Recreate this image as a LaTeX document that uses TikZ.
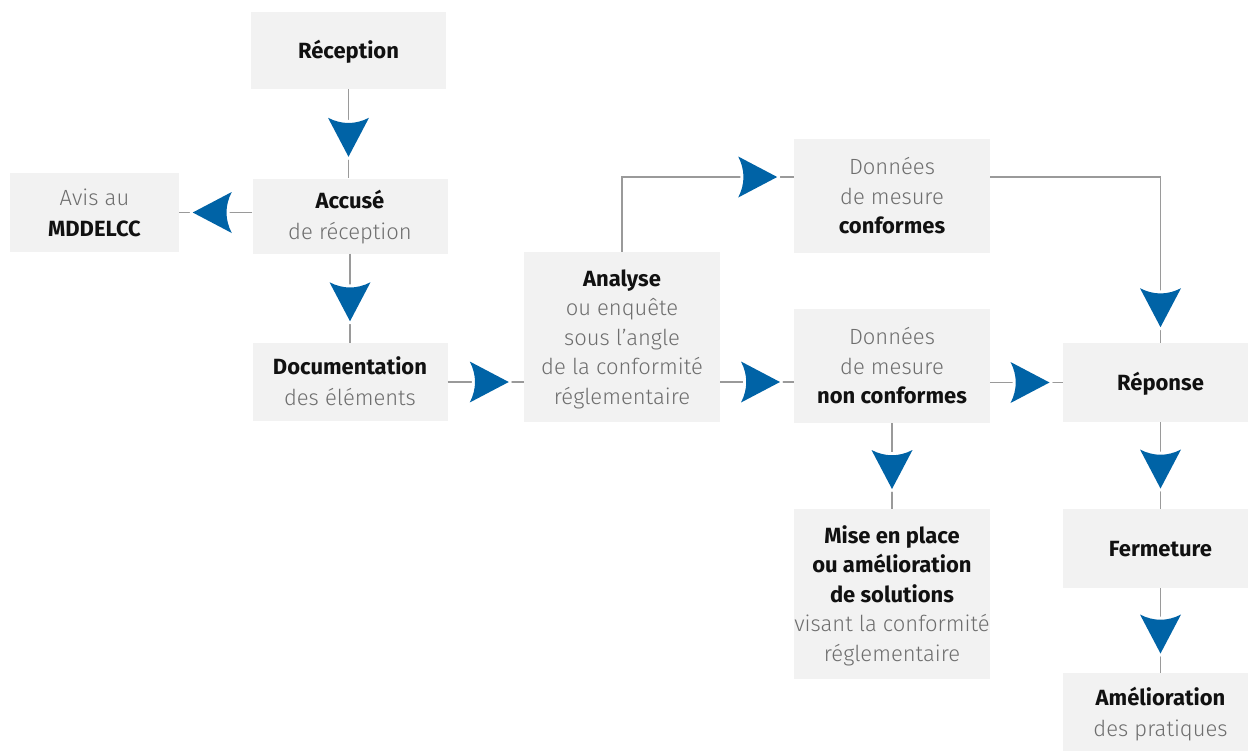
\documentclass[tikz,border=0pt]{standalone}
\usepackage{fontspec}
\setmainfont{Fira Sans}[UprightFont={* Light}, BoldFont={* Bold}]
\usetikzlibrary{decorations.markings,calc}
\definecolor{boxfill}{HTML}{F2F2F2}
\definecolor{linegray}{HTML}{9A9A9A}
\definecolor{txtgray}{HTML}{6E6E6E}
\definecolor{txtbold}{HTML}{111111}
\definecolor{arrowblue}{HTML}{0063A6}
\newcommand\bt[1]{\textcolor{txtbold}{\bfseries #1}}
\newcommand\tx[1]{\rule{0pt}{23pt}#1\rule[-7pt]{0pt}{7pt}}
\newcommand\mytri{%
  \path[draw=white,line width=6pt,line join=round] (-16,20.5) -- (23,0) -- (-16,-20.5) .. controls (-9,-7) and (-9,7) .. (-16,20.5) -- cycle;
  \path[fill=arrowblue] (-16,20.5) -- (23,0) -- (-16,-20.5) .. controls (-9,-7) and (-9,7) .. (-16,20.5) -- cycle;}
\tikzset{
  box/.style={rectangle, fill=boxfill, inner sep=0pt, align=center, text=txtgray,
    font=\fontsize{22}{29.5}\selectfont},
  conn/.style={draw=linegray, line width=1.4pt, postaction={decorate},
    decoration={markings, mark=at position #1 with {\mytri}}},
  conn/.default=0.5
}
\begin{document}
\begin{tikzpicture}[x=1pt,y=-1pt]
\useasboundingbox[fill=white] (0,0) rectangle (1248,750);
\node[box, minimum width=195pt, minimum height=77pt] (rec) at (348.5,50.5) {\tx{\bt{Réception}}};
\node[box, minimum width=195pt, minimum height=75pt] (acc) at (350,216) {\tx{\bt{Accusé}}\\\tx{de réception}};
\node[box, minimum width=169pt, minimum height=79pt] (avis) at (94.5,212.5) {\tx{Avis au}\\\tx{\bt{MDDELCC}}};
\node[box, minimum width=195pt, minimum height=78pt] (doc) at (350,382) {\tx{\bt{Documentation}}\\\tx{des éléments}};
\node[box, minimum width=196pt, minimum height=170pt] (an) at (622,337) {\tx{\bt{Analyse}}\\ou enquête\\sous l’angle\\de la conformité\\\tx{réglementaire}};
\node[box, minimum width=196pt, minimum height=114pt] (dc) at (892,196) {\tx{Données}\\de mesure\\\tx{\bt{conformes}}};
\node[box, minimum width=196pt, minimum height=114pt] (dnc) at (892,366) {\tx{Données}\\de mesure\\\tx{\bt{non conformes}}};
\node[box, minimum width=195pt, minimum height=79pt] (rep) at (1160.5,382.5) {\tx{\bt{Réponse}}};
\node[box, minimum width=196pt, minimum height=170pt] (mise) at (892,594) {\tx{\bt{Mise en place}}\\\bt{ou amélioration}\\\bt{de solutions}\\visant la conformité\\\tx{réglementaire}};
\node[box, minimum width=195pt, minimum height=79pt] (ferm) at (1160.5,548.5) {\tx{\bt{Fermeture}}};
\node[box, minimum width=195pt, minimum height=79pt] (amel) at (1160.5,712.5) {\tx{\bt{Amélioration}}\\\tx{des pratiques}};

\draw[conn] (rec.south) -- (rec.south |- acc.north);
\draw[conn] (acc.west |- avis.east) -- (avis.east);
\draw[conn] (acc.south) -- (doc.north);
\draw[conn] (doc.east) -- (doc.east -| an.west);
\draw[conn] (an.east |- doc.east) -- (dnc.west |- doc.east);
\draw[conn] (dnc.east |- rep.west) -- (rep.west);
\draw[conn=207pt] (an.north) |- ([yshift=19pt]dc.west);
\draw[conn=297.5pt] ([yshift=19pt]dc.east) -| (rep.north);
\draw[conn] (dnc.south) -- (mise.north);
\draw[conn] (rep.south) -- (ferm.north);
\draw[conn] (ferm.south) -- (amel.north);
\end{tikzpicture}
\end{document}
